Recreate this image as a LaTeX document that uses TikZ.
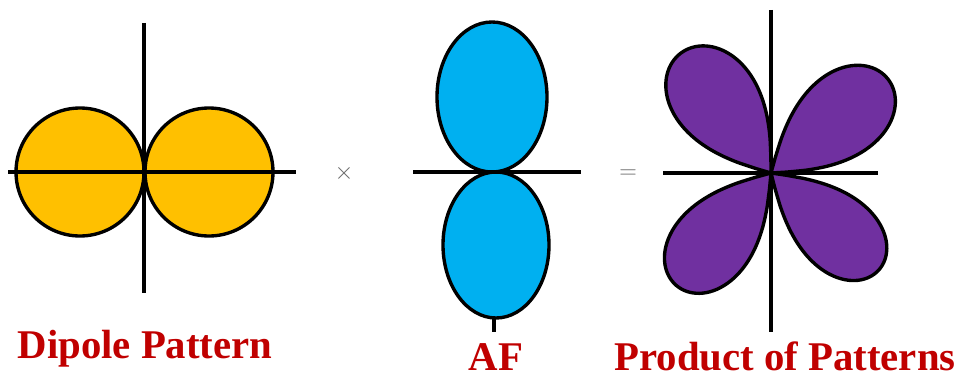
\documentclass[tikz,border=0pt]{standalone}
\usepackage{fontspec}
\setmainfont{Liberation Serif}
\usepackage{tikz}
\usetikzlibrary{calc}
\definecolor{dipolegold}{HTML}{FFC000}
\definecolor{afblue}{HTML}{00B0F0}
\definecolor{prodpurple}{HTML}{7030A0}
\definecolor{labelred}{HTML}{C00000}

\begin{document}
\begin{tikzpicture}[x=0.025cm, y=-0.025cm,
    axis/.style={line width=2.4pt},
    lobe/.style={line width=2.4pt, draw=black, line join=round},
    caption/.style={font=\fontsize{29}{34}\selectfont\bfseries, text=labelred, anchor=base},
    opsign/.style={font=\fontsize{17}{20}\selectfont, text=black!60}]
    \useasboundingbox (0,0) rectangle (960,381);

    % dipole pattern
    \draw[lobe, fill=dipolegold] (80,172) circle (64);
    \draw[lobe, fill=dipolegold] (209,172) circle (64);
    \draw[axis] (8,172) -- (296,172);
    \draw[axis] (144,23) -- (144,293);
    \node[caption] (dipole) at (145,358) {Dipole Pattern};

    \node[opsign] (times) at (344,173) {$\times$};

    % array factor
    \draw[axis] (494,318) -- (494,332);
    \draw[lobe, fill=afblue] (492,97) ellipse [x radius=55, y radius=75];
    \draw[lobe, fill=afblue] (496,245) ellipse [x radius=53, y radius=73];
    \draw[axis] (413,172) -- (581,172);
    \node[caption] (af) at (496,370) {AF};

    \node[opsign] (equals) at (628,174) {$=$};

    % product of patterns
    \draw[axis] (771,10) -- (771,332);
    \draw[axis] (663,173) -- (878,173);
    \foreach \t/\a/\L in {127/37/150, 39/36/150, 230/35/147, 318/34/145}
        \draw[lobe, fill=prodpurple] (771,173) -- plot[domain=-0.99:0.99, samples=61, smooth]
            ({771+\L*cos(90*\x)^0.55*cos(\t+\a*\x)}, {173-\L*cos(90*\x)^0.55*sin(\t+\a*\x)}) -- cycle;
    \node[caption] (product) at (785,370) {Product of Patterns};
\end{tikzpicture}
\end{document}
